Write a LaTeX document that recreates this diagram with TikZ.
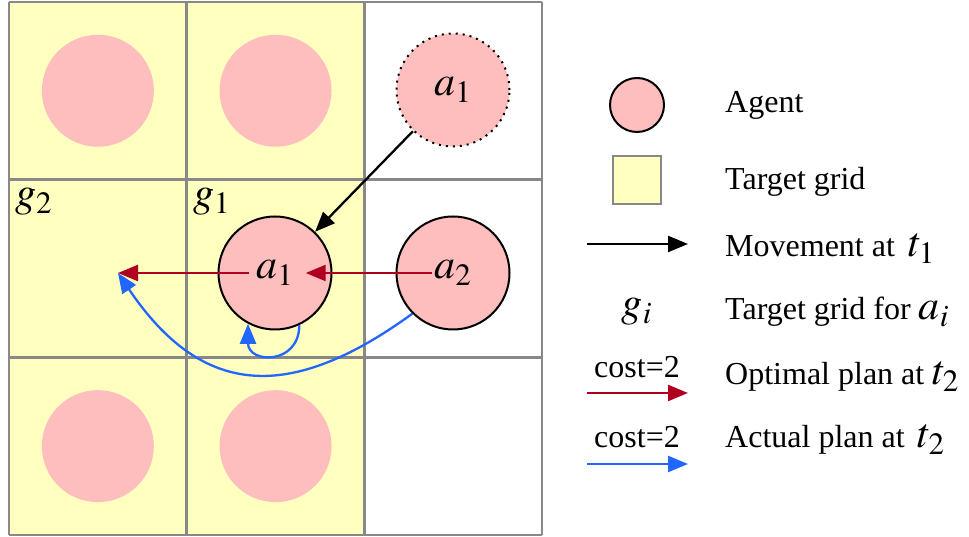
\documentclass[tikz,border=0pt]{standalone}
\usepackage{mathptmx}
\usepackage{fontspec}
\setmainfont{Liberation Serif}
\usetikzlibrary{arrows.meta}

\definecolor{cellyellow}{RGB}{255,255,192}
\definecolor{agentpink}{RGB}{255,190,190}
\definecolor{gridgray}{RGB}{136,136,136}
\definecolor{optred}{RGB}{176,0,32}
\definecolor{actblue}{RGB}{34,102,255}

\newcommand\mlab[1]{{\fontsize{42}{48}\selectfont$#1$}}

\tikzset{
  agent/.style={circle, draw=black, line width=2pt, fill=agentpink, minimum size=113pt, inner sep=0pt},
  ghost/.style={circle, fill=agentpink, minimum size=112pt, inner sep=0pt},
  lab/.style={inner sep=2pt},
  tip/.style={-{Triangle[length=20pt,width=16pt]}, line width=2.3pt},
  legtext/.style={anchor=base west, inner sep=0pt},
}

\begin{document}
\begin{tikzpicture}[x=1pt, y=1pt, font=\fontsize{32}{38}\selectfont]
	\useasboundingbox (0,0) rectangle (969,537);
	\def\c{177.7}
	\def\ox{9}
	\def\oy{2}
	
	% target cells and grid
	\foreach \i in {0,1}
		\foreach \j in {0,1,2}
			\fill[cellyellow] (\ox+\i*\c, \oy+\j*\c) rectangle ++(\c,\c);
	\foreach \i in {0,...,3} {
		\draw[gridgray, line width=2.5pt] (\ox+\i*\c, \oy) -- (\ox+\i*\c, \oy+3*\c);
		\draw[gridgray, line width=2.5pt] (\ox, \oy+\i*\c) -- (\ox+3*\c, \oy+\i*\c);
	}
	
	% other agents
	\foreach \i/\j in {0/0, 1/0, 0/2, 1/2}
		\node[ghost] (o\i\j) at (\ox+\i*\c+\c/2, \oy+\j*\c+\c/2) {};
	
	% agents
	\node[agent, dash pattern=on 2pt off 5pt] (a1old) at (453,447) {\mlab{a_1}};
	\node[agent] (a1) at (275,264) {};
	\node[agent] (a2) at (453,264) {};
	\node[lab] (a1t) at (a1) {\mlab{a_1}};
	\node[lab] (a2t) at (a2) {\mlab{a_2}};
	\coordinate (g2c) at (118,264);
	\node[legtext] (g2) at (15,330) {\mlab{g_2}};
	\node[legtext] (g1) at (193,330) {\mlab{g_1}};
	
	% movements and plans
	\draw[tip] (a1old) -- (a1);
	\draw[tip, optred, shorten >=10pt] (a2t) -- (a1t);
	\draw[tip, optred, shorten <=5pt] (a1t) -- (g2c);
	\draw[tip, actblue] (a2.225) to[out=216, in=-56, looseness=1.3] (g2c);
	\draw[tip, actblue] (a1.295) to[out=-90, in=-90, looseness=2] (a1.242);
	
	% legend
	\node[agent, minimum size=54pt] (legagent) at (637,432) {};
	\node[draw=gridgray, fill=cellyellow, line width=2pt, minimum size=48pt] (legcell) at (636.5,356.5) {};
	\coordinate (m0) at (587,293);
	\coordinate (m1) at (688,293);
	\draw[tip] (m0) -- (m1);
	\node[anchor=base] (leggi) at (637,220) {\mlab{g_i}};
	\node[anchor=base] (costr) at (637,159) {cost=2};
	\coordinate (r0) at (587,144);
	\coordinate (r1) at (688,144);
	\draw[tip, optred] (r0) -- (r1);
	\node[anchor=base] (costb) at (637,89) {cost=2};
	\coordinate (b0) at (587,73);
	\coordinate (b1) at (688,73);
	\draw[tip, actblue] (b0) -- (b1);
	
	\node[legtext] (tagent) at (725,424) {Agent};
	\node[legtext] (tcell) at (725,347) {Target grid};
	\node[legtext] (tmove) at (725,280) {Movement at \,\mlab{t_1}};
	\node[legtext] (tgi) at (725,217) {Target grid for \mlab{a_i}};
	\node[legtext] (topt) at (725,152) {Optimal plan at \mlab{t_2}};
	\node[legtext] (tact) at (725,89) {Actual plan at \,\mlab{t_2}};
\end{tikzpicture}
\end{document}
